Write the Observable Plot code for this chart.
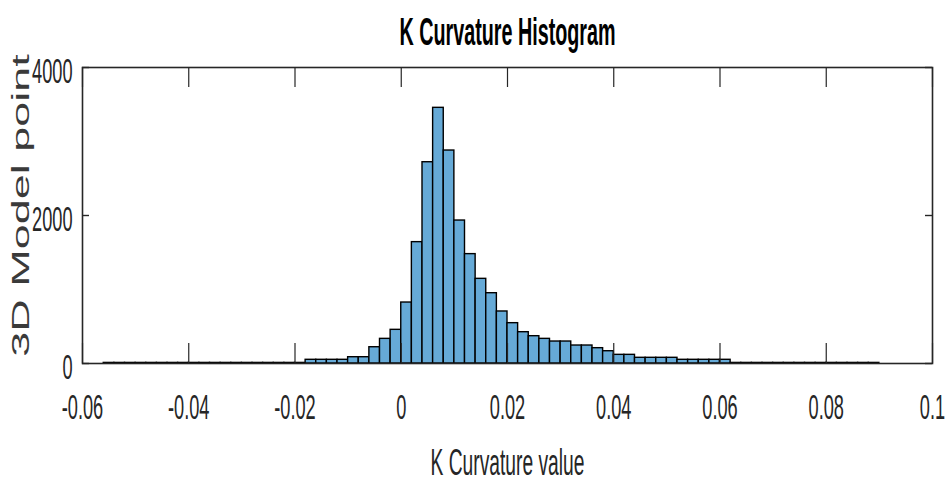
<!DOCTYPE html>
<html>
<head>
<meta charset="utf-8">
<script src="https://cdn.jsdelivr.net/npm/d3@7"></script>
<script src="https://cdn.jsdelivr.net/npm/@observablehq/plot@0.6"></script>
<style>
  html, body { margin: 0; padding: 0; background: #fff; }
  #chart svg { display: block; }
</style>
</head>
<body>
<div id="chart"></div>
<script>
// ---- data ----
const titleText = "K Curvature Histogram";
const xLabelText = "K Curvature value";
const yLabelText = "3D Model point";
const binStart = -0.056;
const binWidth = 0.002;
// counts per bin, from -0.056 to 0.090 (bin width 0.002)
const counts = [
  8, 8, 8, 8, 8, 8, 8, 8, 8, 8, 8, 8, 8, 8, 8, 8, 8, 8, 8,        // -0.056 .. -0.020
  50, 50, 50, 50, 85, 85, 220, 333, 455,                          // -0.018 .. -0.002
  824, 1640, 2720, 3455, 2878, 1932, 1478, 1144, 950, 703,        // 0.000 .. 0.018
  545, 423, 369, 333, 297, 297, 243, 243, 207, 166,               // 0.020 .. 0.038
  117, 117, 77, 77, 77, 77, 50, 50, 50, 50, 50,                   // 0.040 .. 0.060
  8, 8, 8, 8, 8, 8, 8, 8, 8, 8, 8, 8, 8, 8                        // 0.062 .. 0.088
];
const xTicks = [-0.06, -0.04, -0.02, 0, 0.02, 0.04, 0.06, 0.08, 0.1];
const xTickLabels = ["-0.06", "-0.04", "-0.02", "0", "0.02", "0.04", "0.06", "0.08", "0.1"];
const yTicks = [0, 2000, 4000];
const yTickLabels = ["0", "2000", "4000"];

const bins = counts.map((c, i) => ({
  x1: +(binStart + i * binWidth).toFixed(4),
  x2: +(binStart + (i + 1) * binWidth).toFixed(4),
  count: c
}));

const axisColor = "#262626";
const W = 947, H = 492;
const mT = 67, mB = 129, mL = 82, mR = 15;
const innerH = H - mT - mB, innerW = W - mL - mR;

const plot = Plot.plot({
  width: W, height: H,
  marginTop: mT, marginBottom: mB, marginLeft: mL, marginRight: mR,
  x: { domain: [-0.06, 0.1] },
  y: { domain: [0, 4000] },
  style: { fontFamily: "'Liberation Sans', Arial, sans-serif", background: "#fff", color: axisColor },
  marks: [
    Plot.rectY(bins, { x1: "x1", x2: "x2", y: "count", fill: "#66AAD7", stroke: "#000", strokeWidth: 1.4 }),
    Plot.frame({ stroke: axisColor, strokeWidth: 1.6 }),
    // inward ticks
    Plot.ruleX(xTicks, { x: d => d, insetTop: innerH - 20, stroke: axisColor, strokeWidth: 1.2 }),
    Plot.ruleX(xTicks, { x: d => d, insetBottom: innerH - 20, stroke: axisColor, strokeWidth: 1.2 }),
    Plot.ruleY(yTicks, { y: d => d, insetRight: innerW - 7, stroke: axisColor, strokeWidth: 1.4 }),
    Plot.ruleY(yTicks, { y: d => d, insetLeft: innerW - 7, stroke: axisColor, strokeWidth: 1.4 }),
    // tick labels
    Plot.axisX({ ticks: xTicks, tickSize: 0, tickPadding: 31, fontSize: 35, label: null,
      tickFormat: (d) => xTickLabels[xTicks.indexOf(d)], fill: axisColor }),
    Plot.axisY({ ticks: yTicks, tickSize: 0, tickPadding: 10, fontSize: 35, label: null, dy: 4,
      tickFormat: (d) => yTickLabels[yTicks.indexOf(d)], fill: axisColor }),
    // titles
    Plot.text([titleText], { frameAnchor: "top", dy: -49, fontSize: 38, fontWeight: "bold", fill: "#000", text: d => d }),
    Plot.text([xLabelText], { frameAnchor: "bottom", dy: 111, fontSize: 37, fill: axisColor, text: d => d }),
    Plot.text([yLabelText], { frameAnchor: "left", textAnchor: "middle", dx: -61, dy: -10, rotate: -90, fontSize: 45, fill: "#3a3a3a", text: d => d })
  ]
});

document.getElementById("chart").appendChild(plot);

// horizontally condense all text, as in the reference image
const sx = 0.52;
d3.select(plot).selectAll("text").each(function () {
  const el = d3.select(this);
  const t = el.attr("transform");
  if (t) {
    if (/rotate\(-90\)/.test(t)) el.attr("transform", t + ` scale(1,0.54)`);
    else el.attr("transform", t + ` scale(${sx},1)`);
  } else {
    const x = +(el.attr("x") || 0);
    el.attr("transform", `translate(${x},0) scale(${sx},1) translate(${-x},0)`);
  }
});
</script>
</body>
</html>
